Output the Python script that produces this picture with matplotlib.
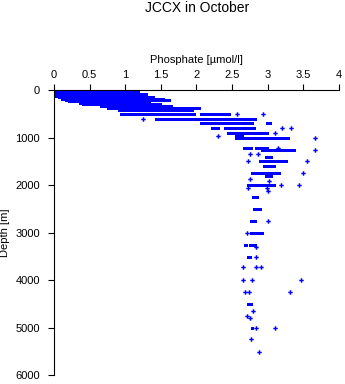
import matplotlib
matplotlib.use("Agg")
import matplotlib.pyplot as plt

plt.rcParams['font.family'] = ['Liberation Sans', 'DejaVu Sans']

# horizontal runs of dense samples: depth [m], phosphate min / max [umol/l]
seg_depth = [0, 30, 60, 90, 120, 150, 180, 210, 240, 270, 300, 330, 380, 410,
             505, 505, 610, 700, 700, 800, 800, 900, 970, 1010, 1220, 1220, 1270, 1400, 1500,
             1600, 1750, 1810, 2000, 2250, 2500, 2760, 3010, 3260, 3260, 3510,
             4500, 5010]
seg_pmin = [0.0, 0.0, 0.0, 0.0, 0.0, 0.05, 0.1, 0.15, 0.2, 0.35, 0.4, 0.65, 0.75, 0.9,
            0.93, 2.05, 1.42, 2.05, 2.98, 2.2, 2.38, 2.43, 2.54, 2.54, 2.65, 2.82, 2.9, 2.96, 2.88,
            2.93, 2.76, 2.96, 2.71, 2.78, 2.8, 2.75, 2.75, 2.67, 2.74, 2.71,
            2.71, 2.77]
seg_pmax = [1.15, 1.2, 1.15, 1.3, 1.25, 1.4, 1.55, 1.63, 1.35, 1.1, 1.5, 1.65, 2.05, 1.95,
            1.98, 2.47, 2.84, 2.8, 3.05, 2.32, 2.82, 3.0, 2.65, 3.3, 2.78, 3.0, 3.38, 3.06, 3.27,
            3.1, 3.17, 3.06, 3.1, 2.87, 2.9, 2.84, 2.93, 2.71, 2.84, 2.77,
            2.78, 2.8]

# isolated samples
pt_depth = [505, 505, 610, 800, 800, 900, 970, 1010, 1220, 1270, 1340, 1340,
            1500, 1500, 1750, 1870, 1910, 2000, 2000, 2070, 2070, 2130, 2760,
            3010, 3300, 3510, 3730, 3730, 3730, 4000, 4000, 4000, 4250, 4250,
            4250, 4650, 4760, 4800, 5010, 5010, 5240, 5510]
pt_phos = [2.57, 2.94, 1.25, 3.2, 3.32, 3.1, 2.3, 3.66, 3.14, 3.66, 2.75, 2.86,
           2.72, 3.55, 3.49, 2.75, 3.02, 3.18, 3.44, 2.72, 2.99, 3.0, 3.0,
           2.71, 2.84, 2.84, 2.66, 2.84, 2.9, 2.66, 2.78, 3.47, 2.68, 2.74,
           3.31, 2.79, 2.71, 2.75, 2.84, 3.1, 2.77, 2.88]

x_ticks = [0, 0.5, 1, 1.5, 2, 2.5, 3, 3.5, 4]
x_labels = ['0', '0.5', '1', '1.5', '2', '2.5', '3', '3.5', '4']
y_ticks = [0, 1000, 2000, 3000, 4000, 5000, 6000]

blue = '#0000ff'

fig = plt.figure(figsize=(3.45, 3.84), dpi=100)
ax = fig.add_axes([0.1565, 0.0234, 0.826, 0.742])

ax.hlines(seg_depth, seg_pmin, seg_pmax, colors=blue, linewidth=2.0, antialiased=False)
ax.plot(pt_phos, pt_depth, linestyle='none', marker='P', markersize=3.2,
        color=blue, markeredgewidth=0, antialiased=False)

ax.set_xlim(0, 4)
ax.set_ylim(6000, 0)
ax.xaxis.tick_top()
ax.xaxis.set_label_position('top')
ax.set_xticks(x_ticks)
ax.set_xticklabels(x_labels)
ax.set_yticks(y_ticks)
ax.set_xlabel('Phosphate [\u00b5mol/l]', fontsize=8, labelpad=5)
ax.set_ylabel('Depth [m]', fontsize=8, labelpad=4)
ax.tick_params(axis='both', labelsize=8, length=4, width=0.8, direction='out', pad=3)
ax.tick_params(axis='y', pad=6)

for side in ['right', 'bottom']:
    ax.spines[side].set_visible(False)
for side in ['left', 'top']:
    ax.spines[side].set_linewidth(0.8)

fig.text(0.57, 0.978, 'JCCX in October', ha='center', va='center', fontsize=10)

fig.savefig('out.png', dpi=100)
